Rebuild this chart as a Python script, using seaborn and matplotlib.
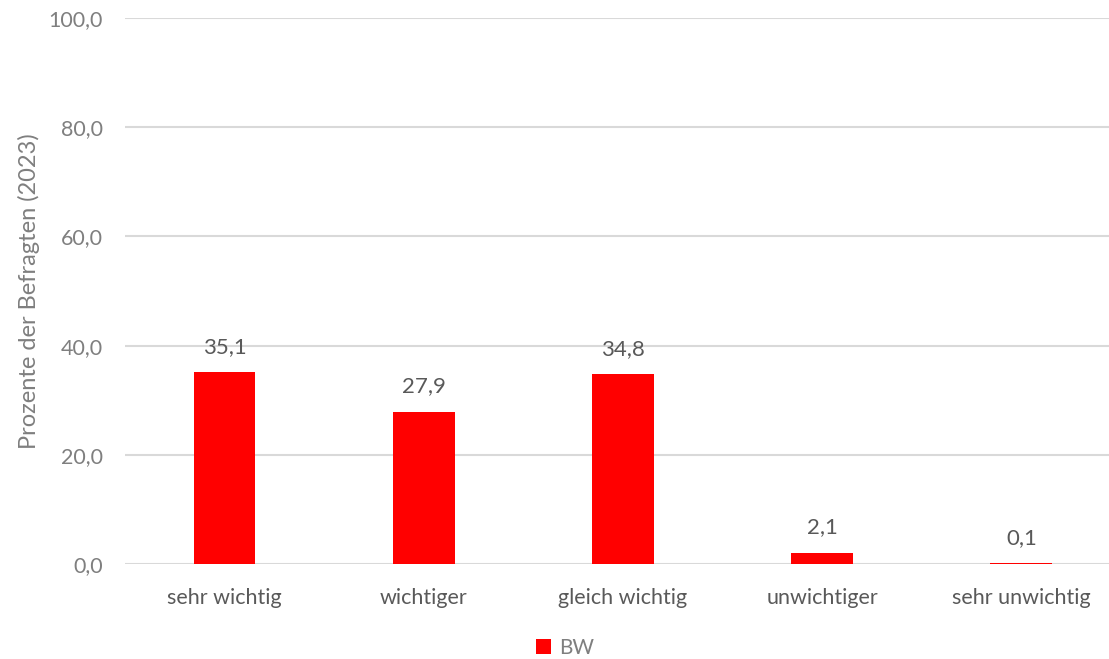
import pandas as pd
import matplotlib.pyplot as plt
import seaborn as sns

categories = ["sehr wichtig", "wichtiger", "gleich wichtig", "unwichtiger", "sehr unwichtig"]
values = [35.1, 27.9, 34.8, 2.1, 0.1]
series = ["BW"] * len(categories)
y_ticks = [0, 20, 40, 60, 80, 100]

df = pd.DataFrame({"Kategorie": categories, "Wert": values, "Region": series})

sns.set_theme(style="white")
plt.rcParams["font.family"] = ["Lato", "DejaVu Sans"]
grey = "#7f7f7f"

fig = plt.figure(figsize=(11.09, 6.59), dpi=100)
ax = fig.add_axes([125 / 1109, 95 / 659, 1 - 125 / 1109, 546 / 659])

sns.barplot(data=df, x="Kategorie", y="Wert", hue="Region", palette={"BW": "#ff0000"},
            width=0.31, dodge=False, saturation=1, linewidth=0, ax=ax)

for i, v in enumerate(values):
    ax.annotate(f"{v:.1f}".replace(".", ","), (i, v), xytext=(0, 11), textcoords="offset points",
                ha="center", va="bottom", fontsize=16, color="#595959")

ax.set_ylim(0, 100)
ax.set_xlim(-0.5, 4.44)
ax.set_yticks(y_ticks)
ax.set_yticklabels([f"{t:.1f}".replace(".", ",") for t in y_ticks])
ax.yaxis.grid(True, color="#d9d9d9", linewidth=1.5)
ax.set_axisbelow(True)
for s in ax.spines.values():
    s.set_visible(False)
ax.tick_params(axis="y", length=0, pad=16, labelsize=15.5, labelcolor=grey)
ax.tick_params(axis="x", length=0, pad=17, labelsize=15.5, labelcolor="#595959")
ax.set_xlabel("")
ax.set_ylabel("Prozente der Befragten (2023)", fontsize=17, color=grey)
ax.yaxis.set_label_coords(-85 / 984, 0.5)

ax.get_legend().remove()
handles, labels = ax.get_legend_handles_labels()
fig.legend(handles, labels, loc="center", bbox_to_anchor=(565 / 1109, 11 / 659), frameon=False,
           fontsize=15, labelcolor=grey, handlelength=0.7, handleheight=0.7, handletextpad=0.4)

fig.savefig("out.png", dpi=100)
